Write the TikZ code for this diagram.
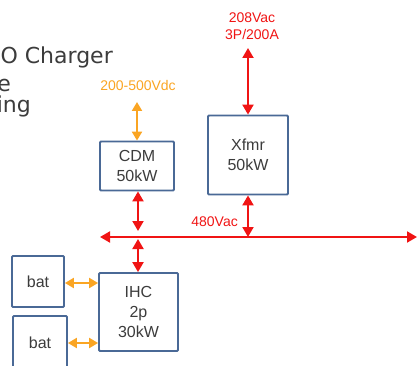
\documentclass[tikz,border=0pt]{standalone}
\usepackage{fontspec}
\setmainfont{Liberation Sans}
\newfontfamily\titlefont{DejaVu Sans}
\usetikzlibrary{arrows.meta}
\definecolor{boxblue}{RGB}{74,105,150}
\definecolor{txtgray}{RGB}{60,60,60}
\definecolor{acred}{RGB}{240,20,20}
\definecolor{dcorange}{RGB}{250,165,35}
\begin{document}
\begin{tikzpicture}[x=1pt,y=-1pt,
  blk/.style={draw=boxblue,line width=1.8pt,fill=white,rounded corners=1pt,inner sep=0pt,
    text=txtgray,align=center,font=\fontsize{16}{20}\selectfont},
  redarr/.style={draw=acred,line width=2pt,{Triangle[length=10pt,width=11pt]}-{Triangle[length=10pt,width=11pt]}},
  orarr/.style={draw=dcorange,line width=2pt,{Triangle[length=9pt,width=10pt]}-{Triangle[length=9pt,width=10pt]}},
  redlbl/.style={text=acred,font=\fontsize{14}{17}\selectfont,inner sep=0pt,align=center},
  orlbl/.style={text=dcorange,font=\fontsize{14}{17}\selectfont,inner sep=0pt},
  ttl/.style={text=txtgray,font=\titlefont\fontsize{22}{26}\selectfont,inner sep=0pt}
]
\useasboundingbox (0,0) rectangle (417,366);

% title fragments (cropped at the left edge, as in the reference)
\node[ttl,anchor=base east] (t1) at (113,64) {O Charger};
\node[ttl,anchor=base east] (t2) at (11,92) {e};
\node[ttl,anchor=base east] (t3) at (31,113) {ing};

% boxes
\node[blk,minimum width=74pt,minimum height=49pt] (cdm) at (137,166) {CDM\\50kW};
\node[blk,minimum width=80pt,minimum height=79pt] (xf) at (248,155) {Xfmr\\50kW};
\node[blk,minimum width=79pt,minimum height=78pt] (ihc) at (138.5,312) {IHC\\2p\\30kW};
\node[blk,minimum width=52pt,minimum height=51pt] (bat1) at (38,281.5) {bat};
\node[blk,minimum width=54pt,minimum height=53pt] (bat2) at (40,342.5) {bat};

% labels
\node[orlbl,anchor=base] (vdc) at (138,91) {200-500Vdc};
\node[redlbl] (vac208) at (252,26) {208Vac\\3P/200A};
\node[redlbl,anchor=base east] (vac480) at (238,226) {480Vac};

% coordinates
\coordinate (busL) at (100,237);
\coordinate (busR) at (417,237);
\coordinate (cdmtop) at (137,102);
\coordinate (xftop) at (248,48);
\coordinate (cdmbus) at (138,231);
\coordinate (ihcbus) at (138,239);
\coordinate (xfbus) at (248,237);

% connectors
\draw[redarr] (busL) -- (busR);
\draw[redarr] (xftop) -- (xf.north);
\draw[redarr] (xf.south) -- (xfbus);
\draw[redarr] (cdm.south -| cdmbus) -- (cdmbus);
\draw[redarr] (ihcbus) -- (ihcbus |- ihc.north);
\draw[orarr] (cdmtop) -- (cdm.north);
\draw[orarr] (bat1.east |- 0,283) -- (ihc.west |- 0,283);
\draw[orarr] (bat2.east |- 0,343) -- (ihc.west |- 0,343);
\end{tikzpicture}
\end{document}
